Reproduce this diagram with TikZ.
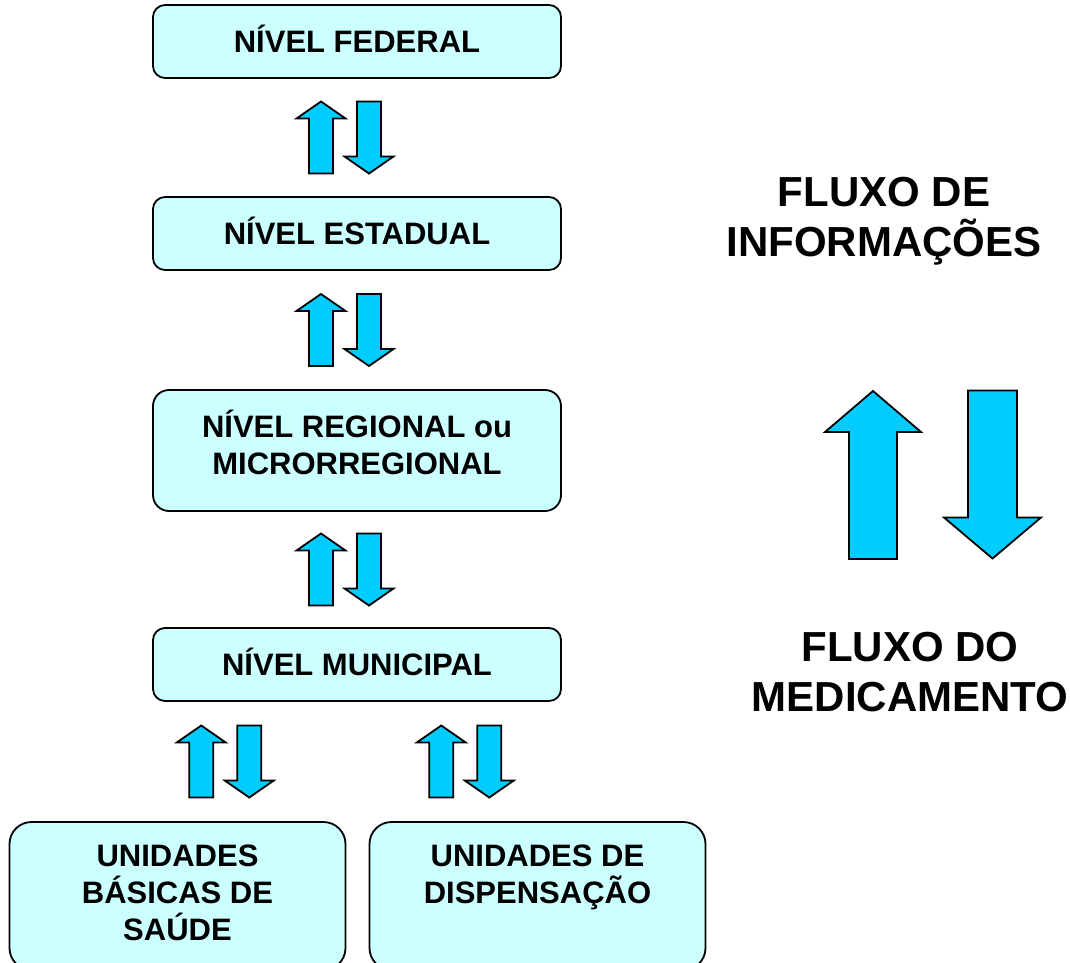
\documentclass[tikz,border=0pt]{standalone}
\usepackage{fontspec}
\setmainfont{Liberation Sans}
\usetikzlibrary{calc}

\definecolor{boxfill}{HTML}{CCFFFF}
\definecolor{arrowfill}{HTML}{00CCFF}

% block arrows: centre, half height, shaft half width, head half width, head length
\newcommand{\arrowup}[5]{%
  \draw[flowarrow] (#1) ++(-#3,#2) -- ++(0,{-2*#2+#5}) -- ++({#3-#4},0)
    -- ++(#4,-#5) -- ++(#4,#5) -- ++({#3-#4},0) -- ++(0,{2*#2-#5}) -- cycle;}
\newcommand{\arrowdown}[5]{%
  \draw[flowarrow] (#1) ++(-#3,-#2) -- ++(0,{2*#2-#5}) -- ++({#3-#4},0)
    -- ++(#4,#5) -- ++(#4,-#5) -- ++({#3-#4},0) -- ++(0,{-2*#2+#5}) -- cycle;}
% pair of arrows in a gap, shifted sideways by #2
\newcommand{\flowpair}[2]{%
  \arrowup{[xshift={#2-24}]#1}{36}{12}{24.5}{17}
  \arrowdown{[xshift={#2+24}]#1}{36}{12}{24.5}{17}}

\begin{document}
\begin{tikzpicture}[x=1pt, y=-1pt,
    level/.style={draw, line width=1.8pt, fill=boxfill, rounded corners=12pt,
      minimum width=408pt, minimum height=73pt, align=center, text depth=6pt,
      font=\fontsize{31}{37}\selectfont\bfseries},
    flowarrow/.style={draw, line width=1.8pt, fill=arrowfill},
    flowtext/.style={align=center, anchor=north, inner sep=0pt,
      font=\fontsize{42}{50}\selectfont\bfseries}]

    \clip (0,0) rectangle (1070,962);

    % levels
    \node[level] (fed) at (357,41.5) {NÍVEL FEDERAL};
    \node[level] (est) at (357,233.5) {NÍVEL ESTADUAL};
    \node[level, minimum height=121pt, rounded corners=16pt, text depth=16pt]
      (reg) at (357,450.5) {NÍVEL REGIONAL ou\\MICRORREGIONAL};
    \node[level] (mun) at (357,664.5) {NÍVEL MUNICIPAL};
    \node[level, minimum width=336pt, minimum height=148pt, rounded corners=22pt]
      (ubs) at (177.5,896) {UNIDADES\\BÁSICAS DE\\SAÚDE};
    \node[level, minimum width=336pt, minimum height=148pt, rounded corners=22pt]
      (disp) at (537.5,896) {UNIDADES DE\\DISPENSAÇÃO\\\phantom{X}};

    % arrows between the levels
    \coordinate (g1) at ($(fed.south)!0.5!(est.north)$);
    \coordinate (g2) at ($(est.south)!0.5!(reg.north)$);
    \coordinate (g3) at ($(reg.south)!0.5!(mun.north)$);
    \coordinate (g4) at ($(mun.south)!0.5!(ubs.north)$);
    \coordinate (g5) at ($(mun.south)!0.5!(disp.north)$);
    \flowpair{g1}{-12}
    \flowpair{g2}{-12}
    \flowpair{g3}{-12}
    \flowpair{g4}{-42}
    \flowpair{g5}{18}

    % legend
    \node[flowtext] (info) at (884,177) {FLUXO DE\\INFORMAÇÕES};
    \node[flowtext] (med) at (910,632) {FLUXO DO\\MEDICAMENTO};
    \arrowup{873,475}{84}{24}{48}{41}
    \arrowdown{992.5,474.5}{84}{24.5}{48.5}{41}

\end{tikzpicture}
\end{document}
